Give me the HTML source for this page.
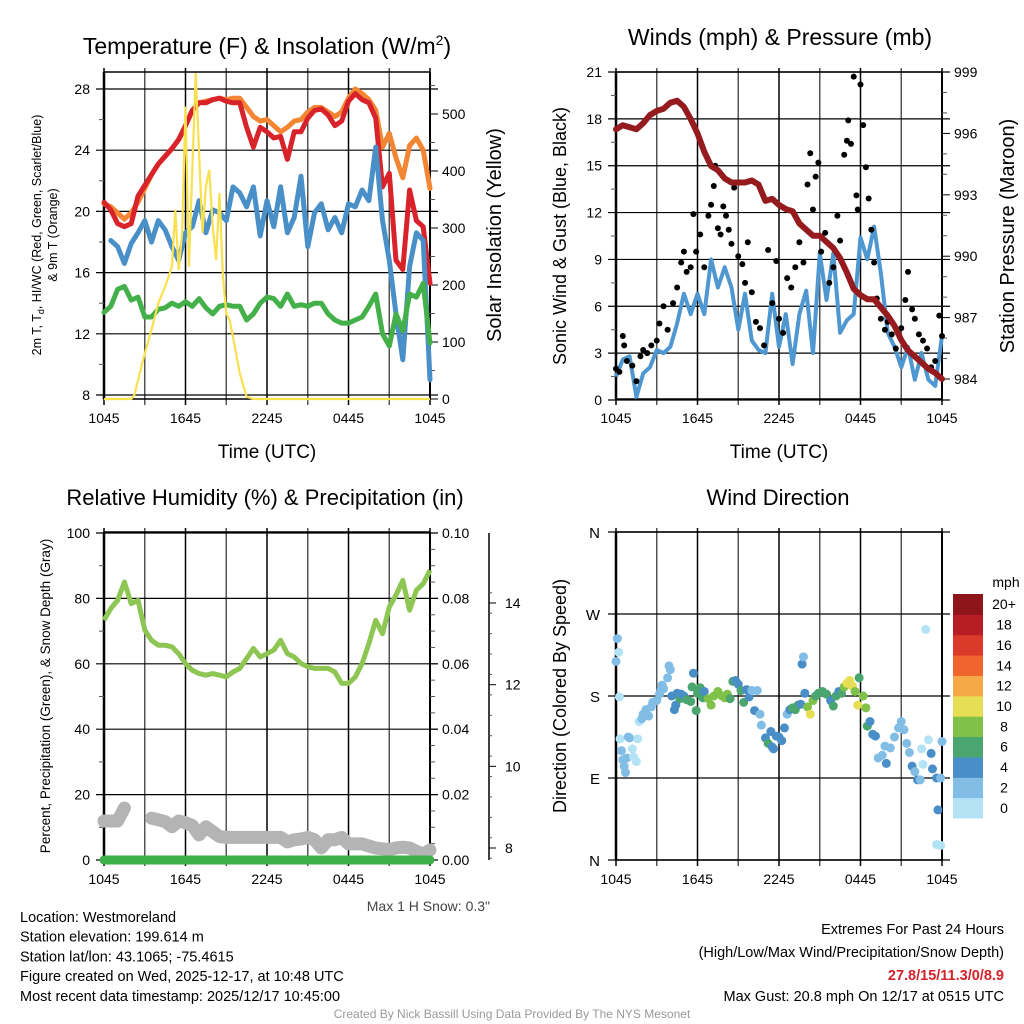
<!DOCTYPE html>
<html><head><meta charset="utf-8"><style>
body{margin:0;background:#fff}
svg{display:block;font-family:"Liberation Sans",sans-serif}
</style></head><body>
<svg id="c" width="1024" height="1024" viewBox="0 0 1024 1024">
<g id="g"></g>
</svg>
<script>
// ---- data (hours since 1045 UTC) ----
const hrs = [];for(let i=0;i<=48;i++)hrs.push(i/2);
const tempRed=[20.6,20.1,19.2,19.0,19.2,21.0,21.7,22.4,23.1,23.6,24.1,24.7,25.6,26.6,27.1,27.1,27.3,27.4,27.2,27.1,27.1,25.5,24.2,25.5,25.2,24.8,24.9,23.4,25.2,25.2,26.1,26.6,26.7,26.3,25.6,25.9,27.2,27.7,27.3,27.1,26.1,21.6,22.5,16.8,16.2,21.4,19.4,19.0,15.3];
const temp9m=[20.5,20.3,19.9,19.5,19.9,20.6,21.5,22.4,23.1,23.6,24.1,24.7,25.6,26.6,27.1,27.2,27.3,27.4,27.3,27.4,27.4,26.8,26.2,25.9,26.0,25.6,25.2,25.5,25.9,26.0,26.5,26.8,26.8,26.5,26.2,26.5,27.4,28.0,27.7,27.3,26.6,24.2,25.1,23.5,22.2,24.3,24.8,24.0,21.5];
const tempBlue=[null,18.1,17.7,16.6,17.9,18.6,19.4,18.0,19.4,18.8,17.7,16.8,18.6,19.0,20.7,18.6,20.1,19.9,19.4,21.6,21.2,20.3,21.6,18.4,20.7,19.0,21.6,18.6,19.6,22.3,17.7,19.9,20.5,18.8,19.6,18.6,20.5,20.3,21.4,20.7,24.2,19.4,16.8,13.3,10.3,16.4,18.6,18.1,9.0];
const dewGreen=[13.4,13.8,14.9,15.1,14.2,14.4,13.1,13.1,13.6,13.7,14.0,13.8,14.1,13.8,14.3,13.7,13.3,13.8,13.9,13.8,13.8,12.9,13.3,14.0,14.4,14.3,13.8,14.6,13.8,13.9,13.8,14.0,14.0,13.3,12.9,12.7,12.7,12.9,13.1,13.8,14.6,12.0,11.2,13.3,12.2,14.6,14.4,15.3,11.4];
const solarHrs=[0,2,2.25,2.5,3,3.5,4,4.5,5,5.25,5.5,5.75,6,6.25,6.5,6.75,7,7.25,7.5,7.75,8,8.25,8.5,8.75,9,9.25,9.5,10,10.5,11,24];
const solarVal=[0,0,8,33,80,121,168,197,232,332,226,291,513,232,402,572,431,291,373,402,303,244,361,215,150,139,109,45,4,0,0];
const windSonic=[1.5,2.6,2.8,0.2,1.7,2.1,3.2,3.0,3.4,4.9,6.8,5.5,6.8,5.5,9.0,7.2,8.5,7.2,4.5,6.8,3.8,3.2,3.0,6.8,3.4,5.5,2.3,5.5,7.0,3.0,9.4,6.4,9.4,4.3,5.1,5.5,10.4,9.0,11.1,8.1,4.3,3.4,2.1,3.4,1.3,3.0,1.3,0.9,4.1];
const gustHrs=[0,0.25,0.5,0.6,0.8,1.2,1.5,1.8,2,2.3,2.6,3,3.2,3.5,3.8,4.2,4.5,4.8,5,5.2,5.5,5.7,5.9,6.2,6.5,6.8,7,7.2,7.3,7.5,7.7,7.9,8.1,8.3,8.5,8.7,9,9.3,9.5,9.7,10,10.3,10.6,10.9,11.2,11.5,11.8,12,12.3,12.6,12.9,13.2,13.5,13.8,14.1,14.3,14.5,14.7,14.9,15.1,15.4,15.7,16,16.3,16.5,16.8,17,17.1,17.3,17.5,17.7,17.8,18,18.2,18.4,18.6,18.8,19,19.2,19.5,19.8,20,20.3,20.6,21,21.3,21.5,21.8,22,22.3,22.6,22.9,23.2,23.5,23.8,24];
const gustVal=[2,1.8,4.1,3.5,2.5,2.2,1.2,2.8,3.2,3.0,3.5,3.8,4.9,6.0,4.5,6.2,7.2,8.8,9.5,8.2,8.5,11.9,9.5,10.6,8.5,11.8,12.5,13.7,15,11,10.6,12.4,11.8,10.9,10,13.6,9.2,8.7,7.5,10.1,6.9,5.0,4.6,3.5,9.6,6.2,8.9,5.2,4.3,7.8,7.2,8.5,10.1,8.8,13.8,15.8,12.2,14.3,15.2,9.5,10.7,7.5,8.5,11.8,10.2,15.7,16.6,17.9,16.4,20.7,13.1,12.2,20.2,17.6,14.9,12.9,10.9,8.8,6.5,5.2,4.5,5.0,4.2,3.3,4.6,6.4,8.2,5.8,5.2,4.2,3.8,3.3,2.1,2.5,5.4,4.1];
const pressure=[996.2,996.4,996.3,996.2,996.5,996.9,997.1,997.2,997.5,997.6,997.3,996.7,996.0,995.1,994.4,994.2,993.8,993.6,993.6,993.6,993.7,993.5,992.7,992.8,992.5,992.3,992.2,991.6,991.3,991.0,991.0,990.7,990.4,989.9,989.2,988.4,988.1,987.9,987.9,987.5,987.1,986.6,985.9,985.4,985.1,984.8,984.5,984.3,984.0];
const rh=[73.3,76.9,79.4,85,78.4,79.4,70.3,67.2,65.7,65.7,65.2,63.1,60.1,58,57.0,56.5,57.0,56.5,56,57.5,58.6,61.6,64.7,62.1,63.1,64.2,67.2,63.1,62.1,60.1,59.1,58.6,58.6,58.6,57.5,54.0,54.0,56,60.1,66.2,73.3,69.2,77.4,81,85.5,76.4,82.5,84.5,88.6];
const snowDepth=[8.66,8.66,8.66,8.98,null,null,null,8.73,8.69,8.65,8.52,8.66,8.62,8.55,8.32,8.52,8.40,8.28,8.26,8.26,8.26,8.26,8.26,8.26,8.26,8.26,8.26,8.15,8.20,8.22,8.26,8.20,8.0,8.20,8.20,8.26,8.10,8.10,8.10,8.05,8.0,7.98,7.96,8.0,8.02,8.0,7.92,7.85,7.95];
const precip=[0,0];const precipHrs=[0,24];
const dirHrs=[0,0.1,0.2,0.25,0.3,0.4,0.5,0.6,0.7,0.8,0.9,1.0,1.2,1.3,1.5,1.6,1.7,1.9,2.0,2.2,2.4,2.6,2.7,3.0,3.2,3.3,3.4,3.5,3.8,3.9,4.0,4.1,4.3,4.4,4.5,4.7,4.8,5.0,5.2,5.5,5.6,5.7,5.9,6.0,6.2,6.4,6.5,6.8,7.0,7.2,7.5,7.8,8.0,8.2,8.4,8.6,8.8,9.0,9.2,9.4,9.6,9.8,10.0,10.2,10.4,10.6,10.7,11.0,11.2,11.4,11.5,11.6,11.8,12.0,12.2,12.4,12.6,12.8,13.0,13.2,13.4,13.6,13.7,13.8,13.9,14.1,14.3,14.5,14.7,14.9,15.2,15.5,15.8,16.0,16.2,16.4,16.6,16.8,17.0,17.2,17.4,17.6,17.8,17.9,18.2,18.4,18.5,18.7,18.9,19.1,19.3,19.6,19.8,19.9,20.2,20.5,20.8,21.0,21.2,21.4,21.6,21.8,22.0,22.2,22.4,22.5,22.6,22.8,23.0,23.2,23.3,23.6,23.7,23.9,23.6,23.9,24];
const dirDeg=[218,243,228,179,133,120,110,103,96,112,135,134,122,113,108,133,152,155,160,165,158,168,173,175,182,186,192,188,200,213,209,180,165,170,183,177,182,180,176,174,190,205,164,183,189,178,185,177,170,180,185,180,178,182,177,196,197,193,186,173,187,179,186,164,186,160,148,134,128,141,124,122,136,135,131,145,160,165,167,165,170,171,215,223,183,168,160,175,180,183,185,182,175,169,180,185,183,190,194,197,191,185,170,200,180,167,147,152,138,136,112,115,125,106,123,135,145,152,143,128,118,103,97,88,88,122,105,253,132,117,100,90,55,16,17,90,130];
const dirSpd=[2.5,2.5,1,1.5,1,2.5,2.5,3,3,2.5,2.5,2.5,1.5,1,1,1,1,2.5,2.5,2.5,2.5,2.5,2.5,2.5,2.5,2.5,2.5,2.5,2.5,2.5,2.5,4,4,4,4,6,4,4,6,6,6,4,6,6,6,6,4,8,8,8,8,8,8,8,6,6,4,4,6,6,4,4,2.5,4,2.5,2.5,2.5,4,6,4,4,4,4,4,4,4,2.5,4,6,6,6,4,4,2.5,4,8,10,8,6,6,6,6,4,6,6,4,6,8,10,10,10,8,10,6,8,8,6,4,4,4,2.5,2.5,2.5,4,2.5,2.5,2.5,2.5,2.5,2.5,2.5,4,2.5,4,2.5,1,1,1,1,4,4,4,4,1,1,2.5,2.5];
const spdColors=["#b5e3f6","#82bde6","#4a8ec7","#4aa56f","#80c14a","#e6df55","#f5aa47","#ef652d","#db3a2b","#b81d25","#8e1519"];
const spdLabels=["0","2","4","6","8","10","12","14","16","18","20+"];

// ---- helpers ----
const NS="http://www.w3.org/2000/svg";const G=document.getElementById('g');
function el(t,a,p){const e=document.createElementNS(NS,t);for(const k in a)e.setAttribute(k,a[k]);(p||G).appendChild(e);return e;}
function txt(s,x,y,size,anchor,extra){const e=el('text',Object.assign({x:x,y:y,'font-size':size,'text-anchor':anchor||'middle',fill:'#000'},extra||{}));e.textContent=s;return e;}
const X0=104,X1=430;
function xs(off){return h=>off+X0+h/24*(X1-X0);}
function lin(d0,d1,p0,p1){return v=>p0+(v-d0)/(d1-d0)*(p1-p0);}
function pathOf(xv,yv,fx,fy){let d='',pen=false;for(let i=0;i<xv.length;i++){if(yv[i]===null){pen=false;continue;}d+=(pen?'L':'M')+fx(xv[i]).toFixed(1)+' '+fy(yv[i]).toFixed(1);pen=true;}return d;}
function frame(off,top,bot,hLines){
  const fx=xs(off);
  for(let h=0;h<=24;h+=3){const l=el('line',{x1:fx(h),x2:fx(h),y1:top-4,y2:bot+6,stroke:(h%6==0)?'#000':'#555','stroke-width':1.5});}
  hLines.forEach(y=>{const l=el('line',{x1:off+X0-8,x2:off+X1+8,y1:y,y2:y,stroke:'#000','stroke-width':1.2});});
  el('line',{x1:off+X0,x2:off+X0,y1:top,y2:bot,stroke:'#000','stroke-width':2.5});
  el('line',{x1:off+X1,x2:off+X1,y1:top,y2:bot,stroke:'#000','stroke-width':2});
  el('line',{x1:off+X0,x2:off+X1,y1:top,y2:top,stroke:'#000','stroke-width':1.5});
  el('line',{x1:off+X0,x2:off+X1,y1:bot,y2:bot,stroke:'#000','stroke-width':1.5});
  ['1045','1645','2245','0445','1045'].forEach((s,i)=>{const t=txt(s,fx(i*6),bot+24,14);});
}
function minor(x,ys,dir){ys.forEach(y=>el('line',{x1:x,x2:x+dir*5,y1:y,y2:y,stroke:'#555','stroke-width':1}));}

// ===== Panel 1 =====
(function(){
 const top=72,bot=399,fx=xs(0);const fy=lin(8,28,395,89);const fs=lin(0,500,399,114);
 const hl=[8,12,16,20,24,28].map(fy);frame(0,top,bot,hl);
 const mn=[];for(let v=10;v<=30;v+=4)if(fy(v)>top)mn.push(fy(v));minor(X0,mn,-1);
 const sm=[];for(let v=50;v<=560;v+=50)if(v%100)sm.push(fs(v));minor(X1,sm,1);
 [8,12,16,20,24,28].forEach(v=>{const t=txt(String(v),X0-14,fy(v)+5,14,'end');});
 [0,100,200,300,400,500].forEach(v=>{el('line',{x1:X1,x2:X1+8,y1:fs(v),y2:fs(v),stroke:'#000'});const t=txt(String(v),X1+12,fs(v)+5,14,'start');});
 const sers=[[temp9m,'#f38632','temp-9m-line'],[tempRed,'#d9232a','temp-2m-line'],[tempBlue,'#4a90c8','heat-index-windchill-line'],[dewGreen,'#44b04a','dewpoint-line']];
 sers.forEach(s=>{const p=el('path',{d:pathOf(hrs,s[0],fx,fy),fill:'none',stroke:s[1],'stroke-width':5,'stroke-linejoin':'round','stroke-linecap':'round'});});
 const sp=el('path',{d:pathOf(solarHrs,solarVal,fx,fs),fill:'none',stroke:'#f8e04e','stroke-width':2.2});
 const t1=el('text',{x:267,y:54,'font-size':23,'text-anchor':'middle'});t1.innerHTML='Temperature (F) &amp; Insolation (W/m<tspan dy="-9" font-size="14">2</tspan><tspan dy="9">)</tspan>';
 const yt=el('text',{transform:'translate(41,235) rotate(-90)','font-size':12.5,'text-anchor':'middle'});yt.innerHTML='2m T, T<tspan font-size="9" dy="3">d</tspan><tspan dy="-3">, HI/WC (Red, Green, Scarlet/Blue)</tspan>';
 const yt2=txt('& 9m T (Orange)',0,0,12.5,'middle',{transform:'translate(57,235) rotate(-90)'});
 const y3=txt('Solar Insolation (Yellow)',0,0,20,'middle',{transform:'translate(501,235) rotate(-90)'});
 const xt=txt('Time (UTC)',267,458,19);
})();

// ===== Panel 2 =====
(function(){
 const off=512,top=72,bot=399,fx=xs(off);const fy=lin(0,21,400,72);const fp=lin(984,999,379,72);
 const hl=[0,3,6,9,12,15,18,21].map(fy);frame(off,top,bot,hl);
 const mn=[];for(let v=1.5;v<21;v+=3)mn.push(fy(v));minor(off+X0,mn,-1);
 const pm=[];for(let v=983;v<=999;v+=1)if((v-984)%3)pm.push(fp(v));minor(off+X1,pm.filter(y=>y<bot&&y>top),1);
 [0,3,6,9,12,15,18,21].forEach(v=>{const t=txt(String(v),off+X0-14,fy(v)+5,14,'end');});
 [984,987,990,993,996,999].forEach(v=>{el('line',{x1:off+X1,x2:off+X1+8,y1:fp(v),y2:fp(v),stroke:'#000'});const t=txt(String(v),off+X1+12,fp(v)+5,14,'start');});
 const w=el('path',{d:pathOf(hrs,windSonic,fx,fy),fill:'none',stroke:'#4f97d0','stroke-width':4,'stroke-linejoin':'round'});
 gustHrs.forEach((h,i)=>{const c=el('circle',{cx:fx(h),cy:fy(gustVal[i]),r:3,fill:'#000'});});
 const p=el('path',{d:pathOf(hrs,pressure,fx,fp),fill:'none',stroke:'#951b1e','stroke-width':6,'stroke-linejoin':'round','stroke-linecap':'round'});
 const t=txt('Winds (mph) & Pressure (mb)',780,45,23);
 const y1=txt('Sonic Wind & Gust (Blue, Black)',0,0,18,'middle',{transform:'translate(566,236) rotate(-90)'});
 const y2=txt('Station Pressure (Maroon)',0,0,20,'middle',{transform:'translate(1014,236) rotate(-90)'});
 const xt=txt('Time (UTC)',779,458,19);
})();

// ===== Panel 3 =====
(function(){
 const top=532,bot=860,fx=xs(0);const fy=lin(0,100,860,533);const fsn=lin(8,14,848,603);
 const hl=[0,20,40,60,80,100].map(fy);frame(0,top,bot,hl);
 const mn=[];for(let v=10;v<100;v+=20)mn.push(fy(v));minor(X0,mn,-1);
 const pm=[];for(let v=5;v<100;v+=5)if(v%20)pm.push(fy(v));minor(X1,pm,1);
 [0,20,40,60,80,100].forEach(v=>{const t=txt(String(v),X0-14,fy(v)+5,14,'end');});
 ['0.00','0.02','0.04','0.06','0.08','0.10'].forEach((s,i)=>{el('line',{x1:X1,x2:X1+8,y1:fy(i*20),y2:fy(i*20),stroke:'#000'});const t=txt(s,X1+12,fy(i*20)+5,14,'start');});
 el('line',{x1:489,x2:489,y1:533,y2:860,stroke:'#000','stroke-width':1.5});
 for(let v=7.75;v<=14.6;v+=0.5){el('line',{x1:489,x2:492,y1:fsn(v),y2:fsn(v),stroke:'#555'});}
 [8,10,12,14].forEach(v=>{el('line',{x1:489,x2:496,y1:fsn(v),y2:fsn(v),stroke:'#000'});const t=txt(String(v),505,fsn(v)+5,14,'start');});
 const s=el('path',{d:pathOf(hrs,snowDepth,fx,fsn),fill:'none',stroke:'#b4b4b4','stroke-width':13,'stroke-linejoin':'round','stroke-linecap':'round'});
 const g=el('path',{d:pathOf(hrs,rh,fx,fy),fill:'none',stroke:'#8dc653','stroke-width':5,'stroke-linejoin':'round'});
 const fpr=lin(0,0.1,860,533);
 const pr=el('path',{d:pathOf(precipHrs,precip,fx,fpr),fill:'none',stroke:'#3daf49','stroke-width':9,'stroke-linecap':'round'});
 const t=txt('Relative Humidity (%) & Precipitation (in)',265,505,22);
 const y1=txt('Percent, Precipitation (Green), & Snow Depth (Gray)',0,0,13.5,'middle',{transform:'translate(50,696) rotate(-90)'});
 const ms=txt('Max 1 H Snow: 0.3"',490,911,14,'end',{fill:'#444'});
})();

// ===== Panel 4 =====
(function(){
 const off=512,top=532,bot=860,fx=xs(off);const fy=lin(0,360,860,532);
 const hl=[0,90,180,270,360].map(fy);frame(off,top,bot,hl);
 ['N','E','S','W','N'].forEach((s,i)=>{const t=txt(s,off+X0-16,fy(i*90)+6,15,'end');});
 dirHrs.forEach((h,i)=>{const ci=Math.min(10,Math.floor(dirSpd[i]/2));const c=el('circle',{cx:fx(h),cy:fy(dirDeg[i]),r:4.5,fill:spdColors[ci]});});
 const t=txt('Wind Direction',778,505,22);
 const y1=txt('Direction (Colored By Speed)',0,0,18,'middle',{transform:'translate(566,696) rotate(-90)'});
 const bh=(818-594)/11;
 spdColors.forEach((c,i)=>{const y=818-(i+1)*bh;const r=el('rect',{x:953,y:y,width:30,height:bh+0.5,fill:c});const l=txt(spdLabels[i],1004,y+bh/2+5,14);});
 const m=txt('mph',1006,587,14);
})();

// ===== footer =====
const info=['Location: Westmoreland','Station elevation: 199.614 m','Station lat/lon: 43.1065; -75.4615','Figure created on Wed, 2025-12-17, at 10:48 UTC','Most recent data timestamp: 2025/12/17 10:45:00'];
info.forEach((s,i)=>{const t=txt(s,20,922+i*19.7,14.5,'start');});
const r1=txt('Extremes For Past 24 Hours',1004,934,14.5,'end');
const r2=txt('(High/Low/Max Wind/Precipitation/Snow Depth)',1004,957,14.5,'end');
const r3=txt('27.8/15/11.3/0/8.9',1004,980,14.5,'end',{fill:'#d3232a','font-weight':'bold'});
const r4=txt('Max Gust: 20.8 mph On 12/17 at 0515 UTC',1004,1001,14.5,'end');
const cr=txt('Created By Nick Bassill Using Data Provided By The NYS Mesonet',512,1018,12,'middle',{fill:'#999'});
</script>
</body></html>
